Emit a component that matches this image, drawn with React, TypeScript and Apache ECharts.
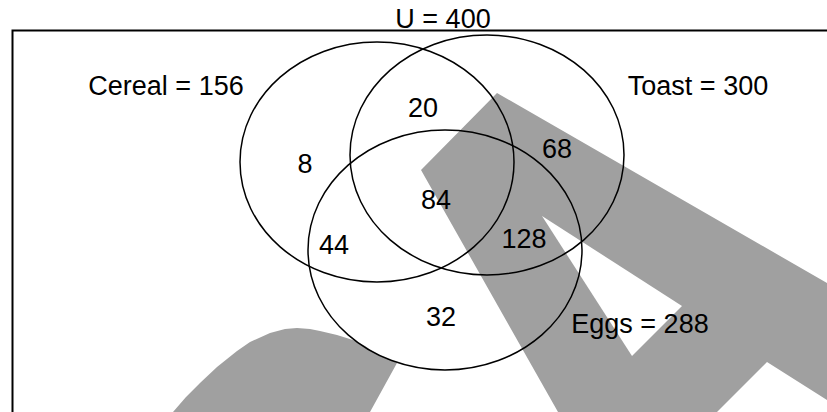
import React, { useEffect, useRef } from "react";
import * as echarts from "echarts";

// ---- data ----
const setNames = ["Cereal", "Toast", "Eggs"];
const setTotals = [156, 300, 288];
const universeTotal = 400;
// region counts: Cereal only, Cereal∩Toast only, Toast only, all three, Cereal∩Eggs only, Toast∩Eggs only, Eggs only
const regionValues = [8, 20, 68, 84, 44, 128, 32];

// ---- layout (chart coordinate space 0..827 x 0..412) ----
const circleCx = [377, 487, 445];
const circleCy = [162, 155, 250];
const circleRx = [137, 137, 137];
const circleRy = [120, 120, 120];
const setLabelX = [166, 698, 640];
const setLabelY = [86, 86, 324];
const regionX = [305, 423, 557, 436, 334, 524, 441];
const regionY = [164, 108, 149, 200, 245, 239, 317];
const universeLabelPos = [443, 19];

const FONT = "27px 'Liberation Sans', Arial, sans-serif";
const GRAY = "#a0a0a0";

export default function App() {
  const ref = useRef<HTMLDivElement>(null);
  useEffect(() => {
    document.body.style.margin = "0";
    const chart = echarts.init(ref.current!, null, { renderer: "svg" });
    const option: any = {
      animation: false,
      backgroundColor: "#ffffff",
      grid: { left: 0, right: 0, top: 0, bottom: 0, containLabel: false },
      xAxis: { type: "value", min: 0, max: 827, show: false },
      yAxis: { type: "value", min: 0, max: 412, inverse: true, show: false },
      graphic: [
        {
          type: "polygon",
          z: 0,
          shape: {
            points: [
              [497, 93], [827, 283], [827, 400], [767, 362], [717, 412], [558, 412], [421, 170],
            ],
          },
          style: { fill: GRAY },
        },
        {
          type: "polygon",
          z: 0,
          shape: { points: [[542, 216], [682, 306], [632, 356]] },
          style: { fill: "#ffffff" },
        },
        {
          type: "polygon",
          z: 0,
          shape: {
            points: [
              [173, 412], [186, 397], [200, 383], [217, 367], [237, 351], [250, 342], [270, 333],
              [285, 329], [297, 328], [310, 329], [320, 331], [337, 335], [353, 340],
              [365, 346], [375, 353], [386, 358], [397, 363], [370, 412],
            ],
          },
          style: { fill: GRAY },
        },
        {
          type: "rect",
          z: 1,
          shape: { x: 12.5, y: 30.5, width: 900, height: 500 },
          style: { fill: "none", stroke: "#000", lineWidth: 2 },
        },
      ],
      series: [
        {
          type: "custom",
          z: 10,
          clip: false,
          data: setNames.map((_, i) => [circleCx[i], circleCy[i], circleRx[i], circleRy[i]]),
          renderItem: (_p: any, api: any) => {
            const c = api.coord([api.value(0), api.value(1)]);
            const s = api.size([api.value(2), api.value(3)]);
            return {
              type: "ellipse",
              shape: { cx: c[0], cy: c[1], rx: s[0], ry: s[1] },
              style: { fill: "none", stroke: "#000", lineWidth: 1.5 },
            };
          },
        },
        {
          type: "custom",
          z: 11,
          clip: false,
          data: regionValues.map((v, i) => [regionX[i], regionY[i], v]),
          renderItem: (_p: any, api: any) => {
            const c = api.coord([api.value(0), api.value(1)]);
            return {
              type: "text",
              x: c[0],
              y: c[1],
              style: { text: String(api.value(2)), font: FONT, fill: "#000", align: "center", verticalAlign: "middle" },
            };
          },
        },
        {
          type: "custom",
          z: 11,
          clip: false,
          data: setNames.map((_, i) => [setLabelX[i], setLabelY[i], i]),
          renderItem: (_p: any, api: any) => {
            const c = api.coord([api.value(0), api.value(1)]);
            const i = api.value(2);
            return {
              type: "text",
              x: c[0],
              y: c[1],
              style: { text: `${setNames[i]} = ${setTotals[i]}`, font: FONT, fill: "#000", align: "center", verticalAlign: "middle" },
            };
          },
        },
        {
          type: "custom",
          z: 11,
          clip: false,
          data: [[universeLabelPos[0], universeLabelPos[1], universeTotal]],
          renderItem: (_p: any, api: any) => {
            const c = api.coord([api.value(0), api.value(1)]);
            return {
              type: "text",
              x: c[0],
              y: c[1],
              style: { text: `U = ${api.value(2)}`, font: FONT, fill: "#000", align: "center", verticalAlign: "middle" },
            };
          },
        },
      ],
    };
    chart.setOption(option);
    return () => chart.dispose();
  }, []);
  return <div ref={ref} style={{ position: "fixed", left: 0, top: 0, width: 827, height: 412 }} />;
}
